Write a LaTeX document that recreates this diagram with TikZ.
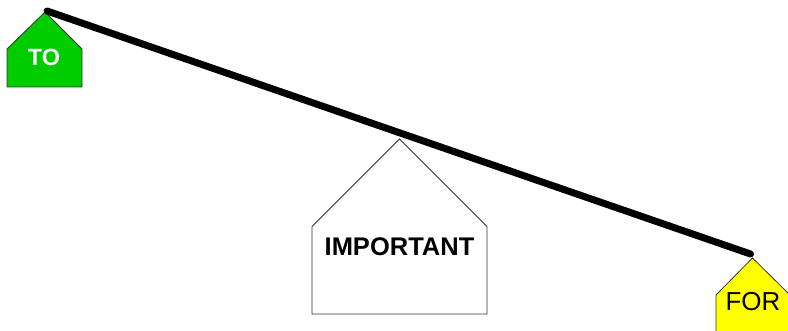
\documentclass[tikz,border=0pt]{standalone}
\usepackage{fontspec}
\setmainfont{Liberation Sans}
\definecolor{hgreen}{RGB}{0,204,0}
\definecolor{hyellow}{RGB}{255,255,0}
\begin{document}
\begin{tikzpicture}[x=1pt,y=-1pt,
  house/.style={draw=black!80,line width=0.8pt,line join=miter},
  beam/.style={line width=7pt,line cap=round,black}]
\useasboundingbox (0,0) rectangle (788,331);
% TO house
\coordinate (topeak) at (45,12);
\draw[house,fill=hgreen] (topeak) -- (82,49) -- (82,87) -- (7,87) -- (7,49) -- cycle;
\node[text=white,font=\bfseries\fontsize{23.5}{25}\selectfont] (to) at (44,57.5) {TO};
% IMPORTANT house
\coordinate (impeak) at (399.5,139);
\draw[house,fill=white] (impeak) -- (487,226.5) -- (487,314) -- (312,314) -- (312,226.5) -- cycle;
\node[font=\bfseries\fontsize{25.5}{27}\selectfont] (imp) at (399.5,247) {IMPORTANT};
% FOR house
\coordinate (forpeak) at (752.5,258);
\draw[house,fill=hyellow] (forpeak) -- (790,295) -- (790,340) -- (716,340) -- (716,295) -- cycle;
\node[font=\fontsize{26}{28}\selectfont] (for) at (753,302) {FOR};
% beam
\coordinate (bl) at (47,11);
\coordinate (br) at (750.5,254);
\draw[beam] (bl) -- (br);
\end{tikzpicture}
\end{document}
